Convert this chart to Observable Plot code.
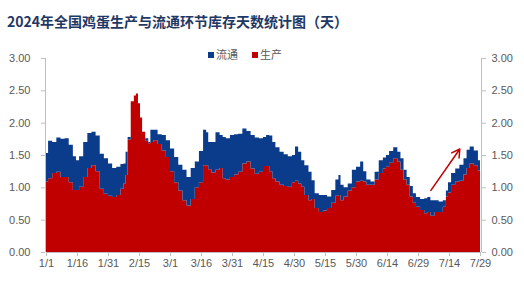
<!DOCTYPE html>
<html><head><meta charset="utf-8">
<script src="https://cdn.jsdelivr.net/npm/d3@7"></script>
<script src="https://cdn.jsdelivr.net/npm/@observablehq/plot@0.6"></script>
<style>
body{margin:0;background:#fff;font-family:"Noto Sans CJK SC","Noto Sans",sans-serif;}
#wrap{position:relative;width:524px;height:294px;overflow:hidden;background:#fff}
#chart{position:absolute;left:0;top:0}
#title{position:absolute;left:7px;top:11px;font-size:14px;font-weight:bold;color:#1F3864;white-space:nowrap;line-height:20px;letter-spacing:0px}
#legend{position:absolute;left:208px;top:47px;font-size:11px;color:#595959;white-space:nowrap;line-height:14px;display:flex;gap:14px}
#legend span.sw{display:inline-block;width:6px;height:6px;margin-right:2px;vertical-align:1px}
</style></head>
<body>
<div id="wrap">
  <div id="chart"></div>
  <div id="title">2024年全国鸡蛋生产与流通环节库存天数统计图（天）</div>
  <div id="legend"></div>
</div>
<script>
const seriesNames = ["流通", "生产"];
const seriesColors = ["#0B3C8C", "#C00000"];

const dates = ["01-01","01-03","01-05","01-07","01-09","01-11","01-13","01-15","01-16","01-18","01-20","01-22","01-24","01-26","01-28","01-30",
"02-01","02-03","02-05","02-07","02-08","02-09","02-10","02-12","02-13","02-14","02-15","02-16","02-17","02-19","02-20","02-21","02-23","02-25","02-27","02-29",
"03-02","03-04","03-06","03-08","03-10","03-12","03-14","03-16","03-18","03-19","03-20","03-22","03-24","03-26","03-27","03-29","03-31",
"04-02","04-04","04-06","04-08","04-10","04-12","04-14","04-16","04-17","04-19","04-20","04-22","04-24","04-26","04-28","04-30",
"05-01","05-03","05-04","05-06","05-08","05-09","05-11","05-13","05-15","05-17","05-19","05-21","05-22","05-23","05-25","05-27","05-29","05-31",
"06-02","06-03","06-05","06-07","06-09","06-11","06-13","06-14","06-16","06-18","06-20","06-21","06-23","06-24","06-26","06-27","06-29",
"07-01","07-03","07-04","07-06","07-08","07-10","07-12","07-13","07-14","07-16","07-18","07-20","07-22","07-23","07-25","07-27","07-29"];

const production = [1.09,1.14,1.22,1.24,1.16,1.16,1.08,0.96,0.96,1.01,1.16,1.30,1.34,1.25,0.98,0.90,
0.87,0.85,0.88,0.98,1.06,1.19,1.74,2.33,2.42,2.45,2.30,2.08,1.86,1.72,1.68,1.70,1.73,1.67,1.57,1.47,
1.25,1.08,0.95,0.80,0.72,0.82,1.00,1.08,1.34,1.34,1.28,1.23,1.27,1.30,1.14,1.12,1.16,
1.20,1.24,1.37,1.40,1.29,1.21,1.24,1.33,1.33,1.25,1.14,1.09,1.04,1.02,1.01,1.08,
1.10,1.06,1.01,0.88,0.80,0.82,0.68,0.62,0.64,0.68,0.76,0.87,0.88,0.80,0.86,0.95,1.00,1.09,
1.10,1.09,1.04,1.04,1.12,1.22,1.29,1.32,1.38,1.45,1.40,1.27,1.12,1.04,0.86,0.76,0.70,
0.65,0.60,0.62,0.56,0.62,0.62,0.70,0.86,0.92,1.04,1.09,1.10,1.20,1.30,1.37,1.34,1.26];

const circulation = [0.44,0.58,0.48,0.53,0.59,0.60,0.58,0.52,0.46,0.47,0.54,0.54,0.52,0.55,0.54,0.55,
0.50,0.45,0.44,0.38,0.31,0.36,0.04,0.00,0.00,0.00,0.00,0.00,0.00,0.04,0.02,0.19,0.16,0.15,0.24,0.26,
0.35,0.39,0.40,0.47,0.44,0.48,0.40,0.48,0.55,0.51,0.42,0.47,0.58,0.51,0.64,0.64,0.65,
0.62,0.59,0.54,0.47,0.52,0.56,0.52,0.45,0.48,0.55,0.56,0.53,0.51,0.49,0.47,0.42,
0.53,0.49,0.41,0.46,0.44,0.29,0.23,0.26,0.24,0.18,0.20,0.25,0.31,0.24,0.14,0.11,0.27,0.23,
0.30,0.16,0.08,0.05,0.12,0.20,0.17,0.18,0.18,0.17,0.15,0.18,0.15,0.12,0.16,0.15,0.15,
0.17,0.23,0.23,0.24,0.18,0.16,0.10,0.09,0.16,0.18,0.20,0.25,0.25,0.28,0.26,0.23,0.16];

const xTickLabels = ["1/1","1/16","1/31","2/15","3/1","3/16","3/31","4/15","4/30","5/15","5/30","6/14","6/29","7/14","7/29"];
const yTicks = [0, 0.5, 1, 1.5, 2, 2.5, 3];

// annotation arrow (date, value) start -> end
const arrowFrom = ["07-05", 0.96];
const arrowTo = ["07-19", 1.60];

const toDate = s => new Date("2024-" + s + "T00:00:00Z");
const tickDate = s => { const [m, d] = s.split("/").map(Number); return new Date(Date.UTC(2024, m - 1, d)); };

const table = [];
dates.forEach((d, i) => table.push({date: toDate(d), series: "生产", value: production[i]}));
dates.forEach((d, i) => table.push({date: toDate(d), series: "流通", value: circulation[i]}));

const xTicks = xTickLabels.map(tickDate);
const labelColor = "#595959";

const chart = Plot.plot({
  width: 524,
  height: 294,
  marginTop: 58,
  marginBottom: 42,
  marginLeft: 46,
  marginRight: 44,
  style: {fontSize: "11px", fontFamily: "'Liberation Sans', Arial, sans-serif", color: labelColor, background: "#fff"},
  x: {type: "utc", domain: [toDate(dates[0]), toDate(dates[dates.length - 1])]},
  y: {domain: [0, 3]},
  color: {domain: ["生产", "流通"], range: [seriesColors[1], seriesColors[0]]},
  marks: [
    Plot.areaY(table, {x: "date", y: "value", fill: "series", order: ["生产", "流通"], curve: "step"}),
    Plot.ruleY([0], {stroke: "#bfbfbf"}),
    Plot.ruleX([toDate(dates[0])], {stroke: "#bfbfbf", dx: -1}),
    Plot.ruleX([toDate(dates[dates.length - 1])], {stroke: "#bfbfbf", dx: 1}),
    Plot.axisY({anchor: "left", ticks: yTicks, tickFormat: d3.format(".2f"), tickSize: 4, tickPadding: 11, stroke: "#bfbfbf", fill: labelColor, label: null, dx: -1}),
    Plot.axisY({anchor: "right", ticks: yTicks, tickFormat: d3.format(".2f"), tickSize: 4, tickPadding: 6, stroke: "#bfbfbf", fill: labelColor, label: null, dx: 1}),
    Plot.axisX({ticks: xTicks, tickFormat: (d, i) => xTickLabels[i], tickSize: 4, tickPadding: 3, stroke: "#bfbfbf", fill: labelColor, label: null}),
    Plot.arrow([{x1: toDate(arrowFrom[0]), y1: arrowFrom[1], x2: toDate(arrowTo[0]), y2: arrowTo[1]}],
      {x1: "x1", y1: "y1", x2: "x2", y2: "y2", stroke: "#C00000", strokeWidth: 1.5, headLength: 9})
  ]
});
document.getElementById("chart").appendChild(chart);

const legend = document.getElementById("legend");
seriesNames.forEach((name, i) => {
  const item = document.createElement("span");
  item.innerHTML = `<span class="sw" style="background:${seriesColors[i]}"></span>${name}`;
  legend.appendChild(item);
});
</script>
</body></html>
